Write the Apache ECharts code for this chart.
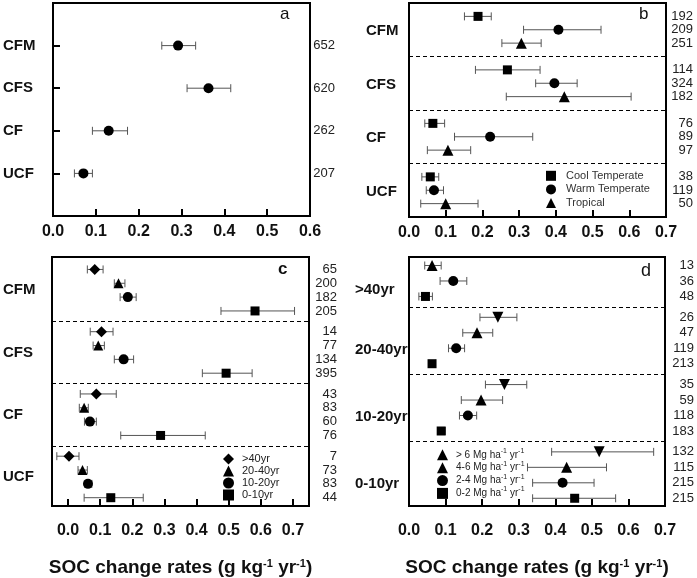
<!DOCTYPE html>
<html>
<head>
<meta charset="utf-8">
<script src="https://cdn.jsdelivr.net/npm/echarts@6/dist/echarts.min.js"></script>
<style>
  html, body { margin: 0; padding: 0; background: #fff; }
  #main { width: 697px; height: 578px; }
</style>
</head>
<body>
<div id="main"></div>
<script>
// panel a - all data
var aCats = ['CFM', 'CFS', 'CF', 'UCF'];
var aMean = [0.292, 0.363, 0.130, 0.071];
var aLow = [0.254, 0.313, 0.092, 0.050];
var aHigh = [0.333, 0.415, 0.174, 0.092];
var aN = [652, 620, 262, 207];

// panel b - climate zones (rows: CFM, CFS, CF, UCF; cols: cool, warm, tropical)
var bCats = ['CFM', 'CFS', 'CF', 'UCF'];
var bNames = ['Cool Temperate', 'Warm Temperate', 'Tropical'];
var bMean = [[0.188, 0.407, 0.306], [0.268, 0.396, 0.423], [0.065, 0.221, 0.106], [0.058, 0.068, 0.100]];
var bLow = [[0.151, 0.312, 0.253], [0.181, 0.345, 0.265], [0.043, 0.124, 0.050], [0.035, 0.047, 0.032]];
var bHigh = [[0.224, 0.523, 0.360], [0.357, 0.458, 0.605], [0.097, 0.337, 0.168], [0.081, 0.094, 0.188]];
var bN = [[192, 209, 251], [114, 324, 182], [76, 89, 97], [38, 119, 50]];

// panel c - duration
var cCats = ['CFM', 'CFS', 'CF', 'UCF'];
var cNames = ['>40yr', '20-40yr', '10-20yr', '0-10yr'];
var cMean = [[0.083, 0.157, 0.186, 0.582], [0.104, 0.094, 0.173, 0.492], [0.088, 0.050, 0.068, 0.288], [0.003, 0.045, 0.062, 0.133]];
var cLow = [[0.060, 0.144, 0.162, 0.476], [0.069, 0.078, 0.144, 0.418], [0.038, 0.035, 0.051, 0.164], [-0.035, 0.031, 0.053, 0.050]];
var cHigh = [[0.109, 0.177, 0.212, 0.705], [0.140, 0.113, 0.204, 0.573], [0.150, 0.063, 0.088, 0.427], [0.034, 0.060, 0.074, 0.234]];
var cN = [[65, 200, 182, 205], [14, 77, 134, 395], [43, 83, 60, 76], [7, 73, 83, 44]];

// panel d - straw input rate by duration
var dCats = ['>40yr', '20-40yr', '10-20yr', '0-10yr'];
var dNames = ['> 6', '4-6', '2-4', '0-2'];
var dMean = [[null, 0.063, 0.121, 0.045], [0.243, 0.186, 0.129, 0.063], [0.261, 0.197, 0.161, 0.088], [0.520, 0.431, 0.420, 0.453]];
var dLow = [[null, 0.043, 0.085, 0.027], [0.194, 0.147, 0.108, 0.055], [0.209, 0.143, 0.138, 0.079], [0.390, 0.324, 0.338, 0.338]];
var dHigh = [[null, 0.088, 0.158, 0.064], [0.295, 0.229, 0.152, 0.072], [0.322, 0.256, 0.185, 0.099], [0.669, 0.540, 0.506, 0.565]];
var dN = [[null, 13, 36, 48], [26, 47, 119, 213], [35, 59, 118, 183], [132, 115, 215, 215]];

var xTicks = [0, 0.1, 0.2, 0.3, 0.4, 0.5, 0.6, 0.7];

var SANS = '"Liberation Sans", Arial, sans-serif';

var wrap = function (arr) { return arr.map(function (v) { return [v]; }); };

var panels = [
  { tag: 'a', cats: aCats, names: ['all'], mean: wrap(aMean), low: wrap(aLow), high: wrap(aHigh), n: wrap(aN),
    grid: { left: 52, top: 3, width: 258, height: 213 }, xMin: 0, xMax: 0.6,
    start: 1, gap: 0, endPad: 1, labelShift: 0, catMargin: 50, nMargin: 25, leftTicks: true, bottom: false, dashed: false,
    symbols: ['circle'], sizes: [10], rot: [0] },
  { tag: 'b', cats: bCats, names: bNames, mean: bMean, low: bLow, high: bHigh, n: bN,
    grid: { left: 409, top: 3, width: 257, height: 214 }, xMin: 0, xMax: 0.7,
    start: 1, gap: 1, endPad: 1, labelShift: 0.1, catMargin: 43, nMargin: 27, leftTicks: false, bottom: false, dashed: true,
    symbols: ['rect', 'circle', 'triangle'], sizes: [9, 10, 11], rot: [0, 0, 0] },
  { tag: 'c', cats: cCats, names: cNames, mean: cMean, low: cLow, high: cHigh, n: cN,
    grid: { left: 52, top: 257, width: 257, height: 256 }, xMin: -0.05, xMax: 0.75,
    start: 0.9, gap: 0.5, endPad: 0.6, labelShift: 0, catMargin: 49, nMargin: 28, leftTicks: false, bottom: true, dashed: true,
    symbols: ['diamond', 'triangle', 'circle', 'rect'], sizes: [11, 10, 10, 9], rot: [0, 0, 0, 0] },
  { tag: 'd', cats: dCats, names: dNames, mean: dMean, low: dLow, high: dHigh, n: dN,
    grid: { left: 409, top: 257, width: 257, height: 255 }, xMin: 0, xMax: 0.7,
    start: 0.55, gap: 0.35, endPad: 0.5, labelShift: 0.6, catMargin: 54, nMargin: 29, leftTicks: false, bottom: true, dashed: true,
    symbols: ['triangle', 'triangle', 'circle', 'rect'], sizes: [11, 11, 10, 9], rot: [180, 0, 0, 0] }
];

// row positions come from group/row order
function rowsOf(p) {
  var rows = [], k = 0;
  p.mean.forEach(function (grp, g) {
    grp.forEach(function (v, s) {
      if (v == null) return;
      rows.push({ g: g, s: s, y: p.start + k + g * p.gap });
      k++;
    });
  });
  return rows;
}

function errorBar(params, api) {
  var y = api.value(2);
  var p1 = api.coord([api.value(0), y]);
  var p2 = api.coord([api.value(1), y]);
  var st = { stroke: '#555', lineWidth: 1 };
  return {
    type: 'group',
    children: [
      { type: 'line', shape: { x1: p1[0], y1: p1[1], x2: p2[0], y2: p2[1] }, style: st },
      { type: 'line', shape: { x1: p1[0], y1: p1[1] - 4, x2: p1[0], y2: p1[1] + 4 }, style: st },
      { type: 'line', shape: { x1: p2[0], y1: p2[1] - 4, x2: p2[0], y2: p2[1] + 4 }, style: st }
    ]
  };
}

var grids = [], xAxes = [], yAxes = [], series = [], legends = [], titles = [];

var axisName = '{t|SOC change rates (g kg}{s|-1}{t| yr}{s|-1}{t|)}';
var nameRich = {
  t: { fontFamily: SANS, fontWeight: 'bold', fontSize: 19, color: '#111' },
  s: { fontFamily: SANS, fontWeight: 'bold', fontSize: 11, color: '#111', verticalAlign: 'top', lineHeight: 12 }
};

panels.forEach(function (p, pi) {
  var rows = rowsOf(p);
  var yMax = rows[rows.length - 1].y + p.endPad;

  // dashed group separators and group label positions
  var seps = [], catPos = {}, nPos = {};
  p.cats.forEach(function (c, g) {
    var ys = rows.filter(function (r) { return r.g === g; }).map(function (r) { return r.y; });
    var mid = ys.reduce(function (a, b) { return a + b; }, 0) / ys.length + p.labelShift;
    catPos[mid.toFixed(3)] = c;
    if (g < p.cats.length - 1) {
      var next = rows.filter(function (r) { return r.g === g + 1; })[0].y;
      seps.push({ yAxis: (ys[ys.length - 1] + next) / 2 });
    }
  });
  rows.forEach(function (r) { nPos[r.y.toFixed(3)] = p.n[r.g][r.s]; });
  var ticks = p.xMax > 0.65 ? xTicks : xTicks.slice(0, 7);

  grids.push({ left: p.grid.left, top: p.grid.top, width: p.grid.width, height: p.grid.height,
    show: true, borderColor: '#000', borderWidth: 2, backgroundColor: 'transparent' });

  xAxes.push({
    type: 'value', gridIndex: pi, min: p.xMin, max: p.xMax, position: 'bottom',
    axisLine: { show: false, onZero: false },
    splitLine: { show: false },
    axisTick: { show: true, inside: true, length: 7, customValues: ticks, lineStyle: { color: '#000', width: 2 } },
    axisLabel: { customValues: ticks, margin: p.bottom ? 17 : 8, showMinLabel: true, showMaxLabel: true,
      fontFamily: SANS, fontWeight: 'bold', fontSize: 16, color: '#111',
      formatter: function (v) { return v.toFixed(1); } },
    name: p.bottom ? axisName : '',
    nameLocation: 'middle', nameGap: 52,
    nameTextStyle: { rich: nameRich }
  });

  yAxes.push({
    type: 'value', gridIndex: pi, min: 0, max: yMax, inverse: true, position: 'left',
    axisLine: { show: false, onZero: false }, splitLine: { show: false },
    axisTick: p.leftTicks ? { inside: true, length: 7, customValues: rows.map(function (r) { return r.y; }),
      lineStyle: { color: '#000', width: 2 } } : { show: false },
    axisLabel: { customValues: Object.keys(catPos).map(Number), align: 'left', margin: p.catMargin,
      showMinLabel: true, showMaxLabel: true,
      fontFamily: SANS, fontWeight: 'bold', fontSize: 15, color: '#111',
      formatter: function (v) { return catPos[v.toFixed(3)] || ''; } }
  });
  yAxes.push({
    type: 'value', gridIndex: pi, min: 0, max: yMax, inverse: true, position: 'right',
    axisLine: { show: false, onZero: false }, splitLine: { show: false }, axisTick: { show: false },
    axisLabel: { customValues: rows.map(function (r) { return r.y; }), align: 'right', margin: p.nMargin,
      showMinLabel: true, showMaxLabel: true,
      fontFamily: SANS, fontSize: 13, color: '#222',
      formatter: function (v) { var n = nPos[v.toFixed(3)]; return n == null ? '' : String(n); } }
  });

  p.names.forEach(function (name, s) {
    var mine = rows.filter(function (r) { return r.s === s; });
    series.push({
      type: 'custom', name: p.tag + '-err-' + s, xAxisIndex: pi, yAxisIndex: pi * 2,
      renderItem: errorBar, z: 2, silent: true,
      data: mine.map(function (r) { return [p.low[r.g][s], p.high[r.g][s], r.y]; })
    });
    var sc = {
      type: 'scatter', name: name, xAxisIndex: pi, yAxisIndex: pi * 2,
      symbol: p.symbols[s], symbolSize: p.sizes[s], symbolRotate: p.rot[s],
      itemStyle: { color: '#000', opacity: 1 }, z: 3,
      data: mine.map(function (r) { return [p.mean[r.g][s], r.y]; })
    };
    if (s === 0 && p.dashed) {
      sc.markLine = { silent: true, symbol: 'none', animation: false, label: { show: false },
        lineStyle: { type: [4, 3], color: '#000', width: 1 }, data: seps };
    }
    series.push(sc);
  });
});

// legends inside panels b, c, d
legends.push({
  data: bNames, orient: 'vertical', left: 546, top: 169, padding: 0, itemGap: 0,
  itemWidth: 10, itemHeight: 10, selectedMode: false,
  textStyle: { fontFamily: SANS, fontSize: 11, color: '#333', lineHeight: 13.6, padding: [0, 0, 0, 5] }
});
legends.push({
  data: cNames, orient: 'vertical', left: 223, top: 453, padding: 0, itemGap: 0,
  itemWidth: 11, itemHeight: 11, selectedMode: false,
  textStyle: { fontFamily: SANS, fontSize: 11, color: '#222', lineHeight: 12, padding: [0, 0, 0, 3] }
});
legends.push({
  data: dNames, orient: 'vertical', left: 437, top: 447.5, padding: 0, itemGap: 0,
  itemWidth: 11, itemHeight: 11, selectedMode: false,
  formatter: function (name) { return '{t|' + name + ' Mg ha}{s|-1}{t| yr}{s|-1}'; },
  textStyle: { color: '#222', padding: [0, 0, 0, 3],
    rich: { t: { fontFamily: SANS, fontSize: 10, color: '#222', lineHeight: 14.7 },
            s: { fontFamily: SANS, fontSize: 7, color: '#222', verticalAlign: 'top', lineHeight: 9 } } }
});

titles = [
  { text: 'a', left: 280, top: 6, padding: 0, textStyle: { fontFamily: SANS, fontSize: 17, fontWeight: 'normal', color: '#111' } },
  { text: 'b', left: 639, top: 6, padding: 0, textStyle: { fontFamily: SANS, fontSize: 17, fontWeight: 'normal', color: '#111' } },
  { text: 'c', left: 278, top: 261, padding: 0, textStyle: { fontFamily: SANS, fontSize: 17, fontWeight: 'bold', color: '#111' } },
  { text: 'd', left: 641, top: 262, padding: 0, textStyle: { fontFamily: SANS, fontSize: 18, fontWeight: 'normal', color: '#111' } }
];

var chart = echarts.init(document.getElementById('main'), null, { renderer: 'canvas' });
chart.setOption({
  backgroundColor: '#fff',
  animation: false,
  title: titles,
  legend: legends,
  grid: grids,
  xAxis: xAxes,
  yAxis: yAxes,
  series: series
});
</script>
</body>
</html>
